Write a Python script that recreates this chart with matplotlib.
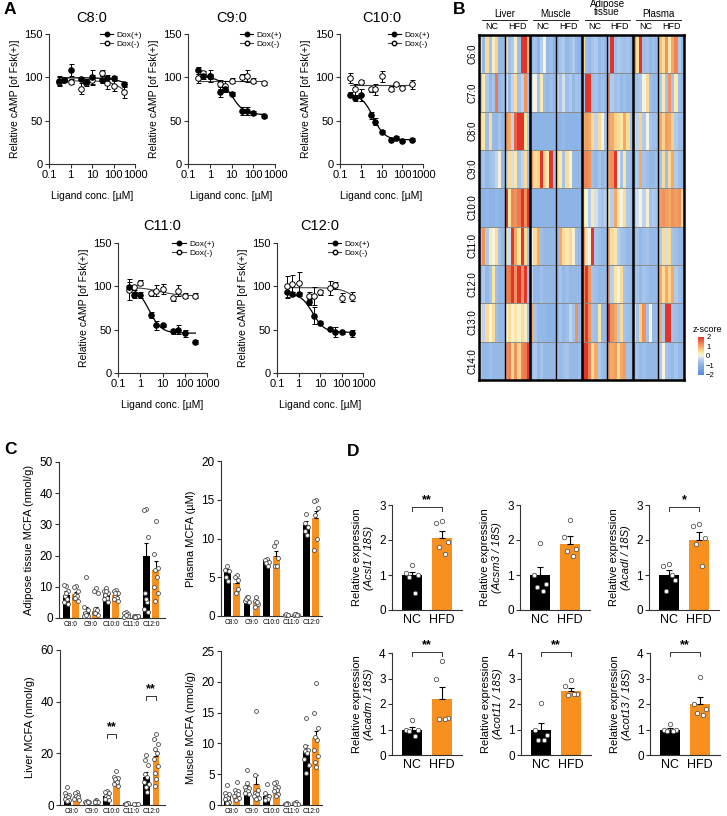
import numpy as np
import matplotlib
matplotlib.use('Agg')
import matplotlib.pyplot as plt
from matplotlib.colors import LinearSegmentedColormap
from matplotlib.lines import Line2D
from matplotlib.ticker import NullLocator

plt.rcParams['font.family'] = ['Liberation Sans', 'DejaVu Sans']

# ---------------- Panel A data ----------------
conc = [0.3, 0.5, 1, 3, 5, 10, 30, 50, 100, 300]
a_titles = ['C8:0', 'C9:0', 'C10:0', 'C11:0', 'C12:0']

c8_pos = [96, 97, 108, 98, 95, 100, 97, 99, 99, 92]
c8_pos_err = [5, 2, 7, 2, 3, 8, 4, 4, 2, 3]
c8_neg = [95, 97, 95, 87, 93, 97, 105, 93, 90, 83]
c8_neg_err = [5, 2, 3, 6, 3, 6, 4, 6, 6, 7]
c9_pos = [108, 101, 102, 83, 86, 81, 61, 61, 59, 55]
c9_pos_err = [4, 3, 7, 6, 3, 2, 5, 5, 2, 2]
c9_neg = [99, 105, 101, 92, 90, 96, 100, 102, 96, 93]
c9_neg_err = [5, 2, 3, 5, 6, 3, 4, 7, 3, 2]
c10_pos = [80, 76, 80, 56, 49, 37, 28, 30, 27, 28]
c10_pos_err = [3, 3, 7, 4, 4, 2, 2, 2, 2, 2]
c10_neg = [99, 86, 95, 86, 86, 101, 87, 92, 88, 92]
c10_neg_err = [6, 6, 2, 3, 6, 6, 3, 2, 2, 5]
c11_pos = [99, 90, 90, 67, 55, 55, 48, 50, 46, 36]
c11_pos_err = [6, 4, 3, 3, 5, 2, 3, 5, 4, 2]
c11_neg = [96, 99, 104, 92, 95, 97, 86, 95, 89, 89]
c11_neg_err = [12, 3, 3, 3, 6, 6, 3, 6, 3, 3]
c12_pos = [93, 91, 91, 82, 66, 58, 51, 47, 47, 46]
c12_pos_err = [7, 2, 2, 3, 10, 2, 2, 6, 2, 4]
c12_neg = [100, 103, 104, 89, 89, 93, 98, 101, 87, 88]
c12_neg_err = [12, 10, 12, 5, 10, 3, 8, 4, 5, 5]

# fitted 4PL parameters: top, bottom, EC50, hill
c8_fit_pos = [99.5, 80, 800, 1.0]
c8_fit_neg = [96, 70, 400, 1.3]
c9_fit_pos = [101, 57, 10, 1.5]
c9_fit_neg = [96, 96, 10, 1.0]
c10_fit_pos = [80, 28, 4, 1.6]
c10_fit_neg = [91, 91, 10, 1.0]
c11_fit_pos = [99, 46, 2.5, 1.6]
c11_fit_neg = [99, 89, 8, 1.0]
c12_fit_pos = [92, 47, 4.5, 1.6]
c12_fit_neg = [98.5, 70, 600, 1.2]

# ---------------- Panel B data (z-scores) ----------------
hm_rows = ['C6:0', 'C7:0', 'C8:0', 'C9:0', 'C10:0', 'C11:0', 'C12:0', 'C13:0', 'C14:0']
hm_tissues = ['Liver', 'Muscle', 'Adipose\ntissue', 'Plasma']
hm_diets = ['NC', 'HFD']

liver_nc = [
    [0.5, -0.8, 0.5, -0.6, 0.2, 0.6, -0.8, -0.8],
    [-0.7, 0.3, -0.5, -0.8, -0.6, 1.4, -0.8, -0.7],
    [0.6, 0.4, -0.7, 0.5, -0.8, -0.8, -0.6, -0.8],
    [-0.8, -0.6, -0.8, -0.7, -0.6, -0.3, 0.1, -0.8],
    [-0.9, -0.9, -0.8, -0.9, -0.9, -0.8, -0.9, -0.9],
    [-0.6, 1.2, -0.5, 0.3, 0.0, 0.5, -0.6, -0.8],
    [-0.8, -0.5, -0.8, -0.6, 0.4, -0.7, -0.8, -0.8],
    [0.5, -0.3, 0.5, 0.0, 0.5, -0.7, -0.8, -0.8],
    [-0.6, -0.8, -0.8, -0.7, -0.8, -0.8, -0.8, -0.8],
]
liver_hfd = [
    [0.5, -0.7, -0.5, 0.2, -0.7, 2.0, 2.2, 0.8],
    [-0.2, -0.8, -0.3, 0.5, -0.6, -0.3, 1.2, -0.7],
    [1.2, 1.0, -0.3, 1.6, 2.2, 2.2, 0.4, -0.5],
    [-0.3, 0.5, -0.2, 0.4, -0.6, -0.3, 0.5, -0.7],
    [2.2, 0.4, 1.3, 1.2, 1.4, 2.0, 1.2, 2.2],
    [0.5, -0.2, 2.2, 1.0, 0.4, 2.0, 0.5, -0.6],
    [1.3, 1.4, 2.0, 1.2, 2.2, 1.2, 2.1, -0.6],
    [0.1, 0.5, 0.0, 0.4, 0.1, 0.5, 0.2, -0.6],
    [1.2, 1.3, 0.5, 1.2, 0.6, 1.3, 1.4, 2.2],
]
muscle_nc = [
    [-0.8, -0.6, -0.9, -0.4, 0.0, -0.8, -0.7, -0.9],
    [-0.2, 0.0, -0.6, 0.3, -0.7, -0.8, -0.7, -0.8],
    [-0.9, -0.9, -0.9, -0.9, -0.9, -0.9, -0.9, -0.9],
    [1.2, 0.5, 0.6, 2.0, 0.6, 0.3, 2.0, -0.6],
    [-0.9, -0.9, -0.9, -0.9, -0.9, -0.9, -0.9, -0.9],
    [0.0, 0.5, 1.0, -0.7, -0.8, -0.8, -0.8, -0.8],
    [-0.3, -0.8, -0.8, -0.7, -0.8, -0.8, -0.8, -0.8],
    [1.0, -0.6, -0.8, -0.8, -0.8, -0.9, -0.9, -0.9],
    [-0.8, -0.5, -0.8, -0.6, -0.8, -0.8, -0.8, -0.8],
]
muscle_hfd = [
    [-0.8, -0.6, -0.5, -0.8, -0.7, -0.5, -0.8, -0.9],
    [-0.3, -0.6, -0.2, -0.7, -0.5, -0.8, -0.6, -0.7],
    [-0.9, -0.9, -0.8, -0.9, -0.9, -0.9, -0.9, -0.9],
    [0.5, 0.3, -0.6, 0.5, 0.0, -0.8, -0.8, -0.8],
    [-0.9, -0.9, -0.9, -0.9, -0.9, -0.9, -0.9, -0.9],
    [-0.7, 1.0, 0.5, 0.3, 0.5, 0.1, -0.7, -0.8],
    [-0.8, -0.6, -0.8, -0.7, -0.8, -0.8, -0.8, -0.8],
    [-0.8, -0.6, -0.8, -0.7, -0.3, -0.6, 1.2, -0.8],
    [-0.6, -0.8, -0.7, -0.6, -0.8, -0.8, -0.8, -0.7],
]
adipose_nc = [
    [0.5, -0.7, -0.8, -0.6, -0.5, -0.8, -0.7, -0.8],
    [-0.6, 2.0, 2.1, -0.7, -0.6, -0.8, -0.7, -0.8],
    [1.0, 1.1, 1.0, 0.5, -0.3, 0.5, 0.0, -0.6],
    [1.3, 1.3, 1.2, -0.7, -0.8, -0.6, -0.8, -0.7],
    [0.4, 0.0, -0.4, 0.3, -0.2, -0.5, -0.6, -0.4],
    [1.2, 0.4, 0.0, 2.0, -0.6, -0.7, -0.8, -0.8],
    [1.3, 2.0, 1.2, -0.6, -0.7, -0.8, -0.8, -0.8],
    [1.3, 2.0, 1.2, -0.6, -0.7, 0.4, -0.8, -0.8],
    [2.0, 2.2, 1.3, 0.5, 1.0, -0.5, -0.7, -0.8],
]
adipose_hfd = [
    [-0.6, 2.0, -0.7, -0.5, -0.6, -0.7, -0.6, -0.8],
    [1.3, -0.5, -0.7, -0.6, -0.8, -0.7, -0.8, -0.8],
    [1.1, 1.0, 0.6, 0.5, 0.4, 1.0, 0.5, -0.6],
    [1.1, 1.2, 2.0, 0.0, -0.6, 0.4, -0.7, -0.8],
    [0.5, -0.4, 1.0, 0.4, 0.0, 0.5, -0.5, -0.6],
    [1.0, 0.5, 0.3, -0.4, -0.6, -0.7, -0.8, -0.8],
    [1.2, -0.4, 0.4, 0.0, 0.5, -0.6, -0.7, -0.8],
    [2.0, 1.2, 1.0, -0.4, 0.5, -0.6, -0.7, -0.8],
    [1.2, 1.0, 1.1, 0.5, 1.0, 1.1, -0.6, -0.7],
]
plasma_nc = [
    [1.2, 0.5, 2.0, -0.7, -0.6, -0.8, -0.7, -0.8],
    [-0.7, -0.6, -0.5, 0.0, 0.5, -0.7, -0.8, -0.8],
    [0.6, -0.3, 0.6, -0.5, 0.0, -0.6, -0.7, -0.7],
    [-0.6, -0.5, 1.0, -0.6, -0.7, -0.8, -0.8, -0.7],
    [-0.4, -0.2, 0.0, -0.3, 0.1, -0.6, -0.5, -0.6],
    [-0.7, -0.6, -0.8, -0.7, -0.6, -0.8, -0.8, -0.8],
    [-0.7, -0.6, -0.8, -0.6, -0.7, -0.8, -0.8, -0.8],
    [0.5, -0.6, 0.6, 1.2, -0.6, 0.0, -0.8, -0.8],
    [-0.7, -0.6, -0.8, -0.7, -0.8, -0.8, -0.8, -0.8],
]
plasma_hfd = [
    [0.8, 0.5, 1.2, 0.3, 1.0, 1.3, -0.5, -0.8],
    [-0.5, 0.3, -0.6, 1.2, -0.6, 0.3, -0.7, -0.8],
    [1.0, 0.6, 1.1, 1.0, 0.6, -0.5, -0.7, -0.7],
    [-0.6, 0.5, -0.7, 0.5, 1.0, -0.5, -0.7, -0.8],
    [1.1, 1.2, 1.1, 1.0, 1.2, 1.1, 1.2, 0.5],
    [-0.5, 0.5, -0.2, 0.5, -0.6, -0.7, -0.8, -0.8],
    [1.0, 0.5, 1.0, 0.6, 1.0, -0.5, -0.7, -0.8],
    [1.0, -0.5, 2.0, 2.0, -0.6, -0.7, -0.8, -0.8],
    [-0.5, 0.0, -0.6, -0.7, -0.8, -0.6, -0.8, -0.8],
]

# ---------------- Panel C data ----------------
mcfa = ['C8:0', 'C9:0', 'C10:0', 'C11:0', 'C12:0']

adipose_nc_mean = [7.5, 2.0, 7.7, 1.0, 19.9]
adipose_nc_sem = [1.0, 1.5, 0.6, 0.3, 4.0]
adipose_hfd_mean = [7.7, 2.3, 7.5, 0.5, 15.5]
adipose_hfd_sem = [0.7, 1.2, 0.5, 0.1, 2.8]
adipose_nc_pts = [[10.2, 10.5, 8.5, 7.0, 6.0, 5.0, 4.5, 8.0],
                  [13.0, 3.5, 2.5, 1.5, 1.0, 0.5, 0.8, 1.0],
                  [9.5, 8.5, 8.0, 7.5, 6.5, 6.0, 5.0, 8.5],
                  [2.0, 1.5, 1.2, 0.8, 0.5, 0.3, 0.5, 1.0],
                  [35.0, 34.5, 26.0, 8.0, 5.0, 3.0, 2.0, 6.0]]
adipose_hfd_pts = [[10.2, 9.8, 8.5, 7.5, 7.0, 6.5, 5.5, 6.5],
                   [9.5, 8.5, 8.0, 3.0, 2.5, 1.5, 1.0, 1.5],
                   [9.0, 8.5, 8.0, 7.0, 6.5, 6.0, 5.5, 8.0],
                   [0.8, 0.6, 0.5, 0.3, 0.2, 0.4, 0.5, 0.3],
                   [31.0, 20.5, 16.0, 15.5, 13.0, 10.0, 8.0, 5.5]]

plasma_nc_mean = [5.7, 2.1, 7.2, 0.1, 11.8]
plasma_nc_sem = [0.4, 0.2, 0.2, 0.03, 0.4]
plasma_hfd_mean = [4.3, 1.8, 7.8, 0.15, 12.6]
plasma_hfd_sem = [0.5, 0.3, 0.6, 0.05, 0.9]
plasma_nc_pts = [[6.5, 6.0, 5.8, 5.0, 4.5],
                 [2.5, 2.0, 1.8, 2.2, 2.5],
                 [7.4, 7.2, 7.0, 6.8, 6.5],
                 [0.1, 0.15, 0.1, 0.2, 0.1],
                 [13.2, 12.0, 11.5, 11.0, 10.5]]
plasma_hfd_pts = [[5.3, 5.0, 4.6, 3.0, 3.5],
                  [2.5, 2.0, 1.5, 1.2, 1.8],
                  [9.5, 9.0, 7.5, 6.5, 6.5],
                  [0.2, 0.1, 0.15, 0.2, 0.1],
                  [15.0, 14.8, 14.0, 13.0, 10.0, 8.5]]

liver_nc_mean = [3.5, 1.2, 3.5, 0.6, 11.0]
liver_nc_sem = [0.6, 0.2, 0.5, 0.1, 1.8]
liver_hfd_mean = [3.5, 1.3, 10.0, 0.4, 19.0]
liver_hfd_sem = [0.5, 0.2, 1.0, 0.1, 2.0]
liver_nc_pts = [[7.0, 4.5, 4.0, 3.5, 3.0, 2.5, 2.0, 1.5],
                [1.5, 1.2, 1.0, 0.8, 1.3],
                [5.5, 5.0, 4.5, 3.5, 3.0, 2.5, 2.0],
                [0.8, 0.5, 0.6, 0.4],
                [19.5, 17.5, 15.5, 12.0, 11.0, 9.0, 8.0, 7.0, 5.0]]
liver_hfd_pts = [[5.0, 4.5, 4.0, 3.5, 3.0, 2.5, 2.0],
                 [2.0, 1.5, 1.2, 1.0],
                 [13.0, 11.0, 10.5, 10.0, 9.0, 8.0, 7.5],
                 [0.5, 0.3, 0.4],
                 [27.5, 25.5, 23.5, 21.5, 20.0, 18.0, 15.0, 12.5, 10.0, 7.5]]

muscle_nc_mean = [1.5, 2.9, 1.5, 0.2, 8.8]
muscle_nc_sem = [0.3, 0.4, 0.3, 0.05, 1.0]
muscle_hfd_mean = [1.8, 3.4, 2.6, 0.3, 10.8]
muscle_hfd_sem = [0.3, 1.5, 0.3, 0.1, 1.2]
muscle_nc_pts = [[3.2, 2.0, 1.8, 1.5, 1.2, 1.0, 0.5, 0.3],
                 [5.7, 3.0, 2.7, 2.5, 2.3, 2.0, 1.8, 3.5],
                 [3.4, 2.0, 1.5, 1.2, 1.0, 0.8],
                 [0.3, 0.2, 0.1, 0.2],
                 [14.2, 9.5, 9.0, 8.8, 8.5, 7.5, 6.5, 5.2]]
muscle_hfd_pts = [[3.8, 2.5, 2.2, 2.0, 1.8, 1.5, 1.2, 0.8],
                  [15.2, 4.9, 2.5, 2.0, 1.8, 1.5, 1.2, 1.0],
                  [3.8, 3.5, 3.0, 2.8, 2.5, 2.2, 1.8, 1.5],
                  [0.5, 0.3, 0.2, 0.1],
                  [19.8, 15.0, 12.5, 11.0, 10.5, 9.0, 8.0, 7.0, 6.2]]

# ---------------- Panel D data ----------------
genes = ['Acsl1', 'Acsm3', 'Acadl', 'Acadm', 'Acot11', 'Acot13']
groups_d = ['NC', 'HFD']
d_nc_mean = [1.0, 1.0, 1.0, 1.0, 1.0, 1.0]
d_nc_sem = [0.08, 0.23, 0.13, 0.09, 0.25, 0.05]
d_hfd_mean = [2.05, 1.9, 2.0, 2.18, 2.52, 2.0]
d_hfd_sem = [0.2, 0.22, 0.22, 0.5, 0.1, 0.28]
d_nc_pts = [[1.3, 1.05, 1.0, 0.95, 0.5],
            [1.92, 1.0, 0.75, 0.65, 0.55],
            [1.32, 1.25, 0.85, 0.55, 1.0],
            [1.38, 1.0, 1.0, 0.95, 0.75],
            [2.05, 1.0, 0.8, 0.6, 0.6],
            [1.2, 1.0, 1.0, 0.95, 0.95]]
d_hfd_pts = [[2.55, 2.5, 1.95, 1.8, 1.6],
             [2.58, 2.1, 1.75, 1.7, 1.55],
             [2.45, 2.4, 2.05, 1.9, 1.25],
             [3.7, 3.0, 1.45, 1.4, 1.4],
             [2.95, 2.7, 2.4, 2.35, 2.4],
             [3.05, 2.0, 1.8, 1.65, 1.55]]
d_sig = ['**', '', '*', '**', '**', '**']
d_sig_y = [2.95, None, 2.95, 4.05, 4.05, 4.05]
d_ymax = [3, 3, 3, 4, 4, 4]

# ---------------- Figure ----------------
W, H = 727, 816
fig = plt.figure(figsize=(W / 100, H / 100), dpi=100)
ORANGE = '#F7901E'


def ax_px(x0, y0, x1, y1):
    return fig.add_axes([x0 / W, 1 - y1 / H, (x1 - x0) / W, (y1 - y0) / H])


def style_axes(ax):
    for s in ['top', 'right']:
        ax.spines[s].set_visible(False)
    for s in ['left', 'bottom']:
        ax.spines[s].set_linewidth(0.8)
        ax.spines[s].set_color('#333333')
    ax.tick_params(width=0.8, length=3, color='#333333', pad=1.5)


def logistic(xs, p):
    top, bot, ec, h = p
    return bot + (top - bot) / (1 + (xs / ec) ** h)


def panel_a(box, title, pos, pos_err, neg, neg_err, fpos, fneg):
    ax = ax_px(*box)
    style_axes(ax)
    xs = np.logspace(np.log10(0.3), np.log10(300), 200)
    ax.plot(xs, logistic(xs, fneg), color='#444444', lw=0.8)
    ax.plot(xs, logistic(xs, fpos), color='black', lw=0.9)
    ax.errorbar(conc, neg, yerr=neg_err, fmt='o', mfc='white', mec='black', ms=4,
                mew=0.7, ecolor='black', elinewidth=0.7, capsize=1.8, capthick=0.7)
    ax.errorbar(conc, pos, yerr=pos_err, fmt='o', mfc='black', mec='black', ms=4,
                mew=0.7, ecolor='black', elinewidth=0.7, capsize=1.8, capthick=0.7)
    ax.set_xscale('log')
    ax.set_xlim(0.1, 1000)
    ax.set_ylim(0, 150)
    ax.set_yticks([0, 50, 100, 150])
    ax.set_xticks([0.1, 1, 10, 100, 1000])
    ax.set_xticklabels(['0.1', '1', '10', '100', '1000'])
    ax.xaxis.set_minor_locator(NullLocator())
    ax.tick_params(labelsize=8)
    ax.set_title(title, fontsize=10.5, pad=9)
    ax.set_ylabel('Relative cAMP [of Fsk(+)]', fontsize=7.5, labelpad=3)
    ax.set_xlabel('Ligand conc. [\u00b5M]', fontsize=7.5, labelpad=8)
    handles = [Line2D([0], [0], color='black', lw=0.8, marker='o', ms=3.2, mfc='black'),
               Line2D([0], [0], color='#444444', lw=0.8, marker='o', ms=3.2, mfc='white', mec='black')]
    ax.legend(handles, ['Dox(+)', 'Dox(-)'], loc='upper right', bbox_to_anchor=(1.12, 1.05),
              frameon=False, fontsize=6, handlelength=1.6, handletextpad=0.4, labelspacing=0.15,
              borderaxespad=0)
    return ax


panel_a((49, 34, 135, 164), a_titles[0], c8_pos, c8_pos_err, c8_neg, c8_neg_err, c8_fit_pos, c8_fit_neg)
panel_a((188, 34, 275, 164), a_titles[1], c9_pos, c9_pos_err, c9_neg, c9_neg_err, c9_fit_pos, c9_fit_neg)
panel_a((340, 34, 423, 164), a_titles[2], c10_pos, c10_pos_err, c10_neg, c10_neg_err, c10_fit_pos, c10_fit_neg)
panel_a((118, 243, 207, 373), a_titles[3], c11_pos, c11_pos_err, c11_neg, c11_neg_err, c11_fit_pos, c11_fit_neg)
panel_a((277, 243, 363, 373), a_titles[4], c12_pos, c12_pos_err, c12_neg, c12_neg_err, c12_fit_pos, c12_fit_neg)

# ---------------- Panel B heatmap ----------------
cmap = LinearSegmentedColormap.from_list('z', [
    (0.0, '#5C8AD6'), (0.28, '#8EB5E6'), (0.42, '#BDD3F0'), (0.5, '#F6F3E4'),
    (0.6, '#FBE6A2'), (0.75, '#F4AA68'), (1.0, '#E3342A')])
blocks = [liver_nc, liver_hfd, muscle_nc, muscle_hfd, adipose_nc, adipose_hfd, plasma_nc, plasma_hfd]
heat = np.hstack([np.array(b) for b in blocks])
ncol = heat.shape[1]
axh = ax_px(479, 35, 684, 380)
xe = np.linspace(0, 8, ncol + 1)
ye = np.arange(len(hm_rows) + 1)
mesh = axh.pcolormesh(xe, ye, heat, cmap=cmap, vmin=-2, vmax=2, linewidth=0, antialiased=False)
axh.set_xlim(0, 8)
axh.set_ylim(len(hm_rows), 0)
axh.set_xticks([])
axh.set_yticks([])
for s in axh.spines.values():
    s.set_linewidth(1.8)
    s.set_color('black')
for r in range(1, len(hm_rows)):
    axh.axhline(r, color='#8a8a8a', lw=0.7)
for g in [1, 3, 5, 7]:
    axh.axvline(g, color='black', lw=1.0)
for g in [2, 4, 6]:
    axh.axvline(g, color='black', lw=1.8)
for i, name in enumerate(hm_rows):
    axh.text(-0.27, i + 0.5, name, rotation=90, ha='center', va='center', fontsize=7, clip_on=False)
for t, tissue in enumerate(hm_tissues):
    cx = 2 * t + 1
    if '\n' in tissue:
        axh.text(cx, -0.47, tissue, ha='center', va='bottom', fontsize=7, linespacing=0.75, clip_on=False)
    else:
        axh.text(cx, -0.42, tissue, ha='center', va='bottom', fontsize=7, clip_on=False)
    axh.plot([cx - 0.88, cx + 0.88], [-0.4, -0.4], color='black', lw=0.6, clip_on=False)
    for d, diet in enumerate(hm_diets):
        axh.text(2 * t + d + 0.5, -0.1, diet, ha='center', va='bottom', fontsize=6.5, clip_on=False)

cax = ax_px(698, 337, 704, 375)
cb = fig.colorbar(mesh, cax=cax, ticks=[-2, -1, 0, 1, 2])
cb.outline.set_visible(False)
cax.tick_params(length=0, labelsize=5.5, pad=1.5)
fig.text(707 / W, 1 - 330 / H, 'z-score', ha='center', va='center', fontsize=6.5)

# ---------------- Panel C ----------------
PT_OFFS = [0.0, -0.09, 0.09, -0.05, 0.05, -0.11, 0.11, -0.02, 0.03, -0.07]


def scatter_pts(ax, x, pts):
    offs = [x + PT_OFFS[i % len(PT_OFFS)] for i in range(len(pts))]
    ax.scatter(offs, pts, s=8, facecolor='white', edgecolor='#4a4a4a', linewidth=0.6, zorder=4, clip_on=False)


def panel_c(box, ymax, yticks, ylabel, nc_m, nc_s, hf_m, hf_s, nc_p, hf_p, xlim):
    ax = ax_px(*box)
    style_axes(ax)
    x = np.arange(len(mcfa))
    bw = 0.34
    ax.bar(x - 0.24, nc_m, bw, color='black', zorder=2)
    ax.bar(x + 0.24, hf_m, bw, color=ORANGE, zorder=2)
    ax.errorbar(x - 0.24, nc_m, yerr=[np.zeros(len(nc_s)), nc_s], fmt='none', ecolor='black',
                elinewidth=0.8, capsize=1.5, capthick=0.8, zorder=3)
    ax.errorbar(x + 0.24, hf_m, yerr=[np.zeros(len(hf_s)), hf_s], fmt='none', ecolor='black',
                elinewidth=0.8, capsize=1.5, capthick=0.8, zorder=3)
    for i in range(len(mcfa)):
        scatter_pts(ax, x[i] - 0.24, nc_p[i])
        scatter_pts(ax, x[i] + 0.24, hf_p[i])
    ax.set_xlim(*xlim)
    ax.set_ylim(0, ymax)
    ax.set_yticks(yticks)
    ax.set_xticks(x)
    ax.set_xticklabels(mcfa, fontsize=4.8)
    ax.tick_params(axis='x', length=0, pad=2)
    ax.tick_params(axis='y', labelsize=8.5)
    ax.set_ylabel(ylabel, fontsize=8, labelpad=4)
    return ax


panel_c((59, 462, 165, 618), 50, [0, 10, 20, 30, 40, 50], 'Adipose tissue MCFA (nmol/g)',
        adipose_nc_mean, adipose_nc_sem, adipose_hfd_mean, adipose_hfd_sem,
        adipose_nc_pts, adipose_hfd_pts, (-0.6, 4.7))
panel_c((221, 461, 322, 616), 20, [0, 5, 10, 15, 20], 'Plasma MCFA (\u00b5M)',
        plasma_nc_mean, plasma_nc_sem, plasma_hfd_mean, plasma_hfd_sem,
        plasma_nc_pts, plasma_hfd_pts, (-0.55, 4.55))
axl = panel_c((60, 650, 165, 805), 60, [0, 20, 40, 60], 'Liver MCFA (nmol/g)',
              liver_nc_mean, liver_nc_sem, liver_hfd_mean, liver_hfd_sem,
              liver_nc_pts, liver_hfd_pts, (-0.6, 4.7))
panel_c((221, 651, 322, 805), 25, [0, 5, 10, 15, 20, 25], 'Muscle MCFA (nmol/g)',
        muscle_nc_mean, muscle_nc_sem, muscle_hfd_mean, muscle_hfd_sem,
        muscle_nc_pts, muscle_hfd_pts, (-0.55, 4.55))

liver_sig_idx = [2, 4]
liver_sig_y = [27.5, 42.2]
for i, yv in zip(liver_sig_idx, liver_sig_y):
    axl.plot([i - 0.24, i - 0.24, i + 0.24, i + 0.24], [yv - 1.6, yv, yv, yv - 1.6],
             color='#333333', lw=0.7, clip_on=False)
    axl.text(i, yv + 0.3, '**', ha='center', va='bottom', fontsize=9, fontweight='bold')

# ---------------- Panel D ----------------
d_boxes = [(392, 505, 462, 610), (520, 505, 590, 610), (649, 505, 719, 610),
           (392, 653, 462, 755), (521, 653, 591, 755), (650, 653, 720, 755)]
for k, g in enumerate(genes):
    ax = ax_px(*d_boxes[k])
    style_axes(ax)
    ax.bar([0], [d_nc_mean[k]], 0.667, color='black', zorder=2)
    ax.bar([1], [d_hfd_mean[k]], 0.667, color=ORANGE, zorder=2)
    ax.errorbar([0], [d_nc_mean[k]], yerr=[[0], [d_nc_sem[k]]], fmt='none', ecolor='black',
                elinewidth=0.8, capsize=2, capthick=0.8, zorder=3)
    ax.errorbar([1], [d_hfd_mean[k]], yerr=[[0], [d_hfd_sem[k]]], fmt='none', ecolor='black',
                elinewidth=0.8, capsize=2, capthick=0.8, zorder=3)
    offs = [0.0, -0.2, 0.2, -0.1, 0.1]
    ax.scatter([0 + offs[i % 5] for i in range(len(d_nc_pts[k]))], d_nc_pts[k], s=10,
               facecolor='white', edgecolor='#555555', linewidth=0.6, zorder=4)
    ax.scatter([1 + offs[i % 5] for i in range(len(d_hfd_pts[k]))], d_hfd_pts[k], s=10,
               facecolor='white', edgecolor='#555555', linewidth=0.6, zorder=4)
    ax.set_xlim(-0.667, 1.667)
    ax.set_ylim(0, d_ymax[k])
    ax.set_yticks(range(0, d_ymax[k] + 1))
    ax.set_xticks([0, 1])
    ax.set_xticklabels(groups_d, fontsize=9)
    ax.tick_params(axis='x', length=0, pad=3)
    ax.tick_params(axis='y', labelsize=8.5)
    ax.text(-0.5, 0.5, 'Relative expression', transform=ax.transAxes, rotation=90,
            ha='center', va='center', fontsize=8)
    ax.text(-0.33, 0.5, '(' + g + ' / 18S)', transform=ax.transAxes, rotation=90,
            ha='center', va='center', fontsize=8, style='italic')
    if d_sig[k]:
        yv = d_sig_y[k]
        dy = 0.045 * d_ymax[k]
        ax.plot([0, 0, 1, 1], [yv - dy, yv, yv, yv - dy], color='#333333', lw=0.7, clip_on=False)
        ax.text(0.5, yv + 0.01 * d_ymax[k], d_sig[k], ha='center', va='bottom', fontsize=9,
                fontweight='bold', clip_on=False)

# ---------------- Panel letters ----------------
for letter, (px, py) in {'A': (4, 10), 'B': (453, 10), 'C': (4, 449), 'D': (347, 452)}.items():
    fig.text(px / W, 1 - py / H, letter, fontsize=12.5, fontweight='bold', ha='left', va='center')

fig.savefig('out.png', dpi=100)
